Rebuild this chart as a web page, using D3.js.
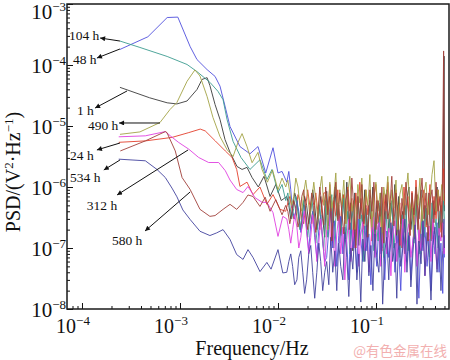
<!DOCTYPE html>
<html><head><meta charset="utf-8">
<script src="https://cdn.jsdelivr.net/npm/d3@7"></script>
<style>body{margin:0;background:#fff}svg{display:block}</style>
</head><body><svg id="c" width="450" height="360"></svg>
<script>
// ---------- DATA ----------
const seriesNames = ["1 h","24 h","48 h","104 h","312 h","490 h","534 h","580 h"];

// low-frequency parts: [frequency (Hz), PSD]
const s1h = [[2.44e-4,4.3e-5],[4.9e-4,2.9e-5],[7.4e-4,2.4e-5],[9.3e-4,2.3e-5],[1.18e-3,2.57e-5],[1.49e-3,3.96e-5],[1.68e-3,5.8e-5],[1.89e-3,6.2e-5],[2.02e-3,4.6e-5],[2.28e-3,2.25e-5],[2.56e-3,1.28e-5],[2.88e-3,6.0e-6],[3.24e-3,3.7e-6],[3.82e-3,2.17e-6],[4.3e-3,1.94e-6],[4.83e-3,2.1e-6],[5.44e-3,1.43e-6],[6.3e-3,1.0e-6],[7.2e-3,1.5e-6],[8.3e-3,7e-7],[9.5e-3,1.1e-6],[1.08e-2,6e-7]];
const s24h = [[2.37e-4,5.4e-6],[4.43e-4,5.7e-6],[8.28e-4,6.5e-6],[1.23e-3,7.8e-6],[1.61e-3,8.9e-6],[1.81e-3,8.3e-6],[2.29e-3,5.7e-6],[2.9e-3,3.9e-6],[3.4e-3,3.05e-6],[3.79e-3,1.94e-6],[4.09e-3,1.02e-6],[4.83e-3,1.2e-6],[5.56e-3,7.5e-7],[6.55e-3,1.0e-6],[7.7e-3,5.2e-7],[8.9e-3,7.5e-7],[1.05e-2,4.3e-7]];
const s48h = [[2.44e-4,1.8e-4],[4.7e-4,2.9e-4],[7.4e-4,6.0e-4],[9.5e-4,6.1e-4],[1.27e-3,2.0e-4],[1.49e-3,1.23e-4],[1.89e-3,8.4e-5],[2.28e-3,6.5e-5],[2.56e-3,4.5e-5],[2.94e-3,1.86e-5],[3.24e-3,9.8e-6],[4.09e-3,4.6e-6],[5.18e-3,3.5e-6],[6.25e-3,4.6e-6],[7.5e-3,1.7e-6],[8.9e-3,4.4e-6],[1.0e-2,1.7e-6],[1.1e-2,1.8e-6]];
const s104h = [[2.44e-4,2.47e-4],[3.9e-4,1.94e-4],[7.4e-4,1.38e-4],[1.18e-3,1.02e-4],[1.49e-3,7.8e-5],[2.02e-3,5.2e-5],[2.44e-3,3.7e-5],[2.75e-3,2.7e-5],[3.02e-3,1.28e-5],[3.48e-3,5.6e-6],[4.19e-3,3.05e-6],[5.18e-3,1.94e-6],[6.55e-3,2.8e-6],[7.72e-3,1.33e-6],[8.69e-3,1.94e-6],[1.0e-2,8.1e-7],[1.1e-2,1.1e-6]];
const s312h = [[2.37e-4,6.65e-6],[4.43e-4,6.9e-6],[7.08e-4,8.1e-6],[7.96e-4,6.9e-6],[9.7e-4,5.37e-6],[1.23e-3,4.17e-6],[1.55e-3,3.05e-6],[1.96e-3,2.52e-6],[2.48e-3,2.52e-6],[2.9e-3,1.85e-6],[3.24e-3,1.3e-6],[3.79e-3,9.1e-7],[4.4e-3,8.1e-7],[4.94e-3,1.02e-6],[5.82e-3,6.7e-7],[6.9e-3,5.6e-7],[7.7e-3,5.6e-7],[8.9e-3,3.8e-7],[1.0e-2,1.55e-7],[1.12e-2,3.3e-7]];
const s490h = [[2.44e-4,7.3e-6],[3.9e-4,8.0e-6],[6.25e-4,1.14e-5],[7.9e-4,1.86e-5],[9.3e-4,2.43e-5],[1.18e-3,5.4e-5],[1.42e-3,8.3e-5],[1.6e-3,6.6e-5],[1.89e-3,3.05e-5],[2.17e-3,1.38e-5],[2.56e-3,6.7e-6],[3.02e-3,4.1e-6],[3.48e-3,3.16e-6],[3.91e-3,5.4e-6],[4.3e-3,7.5e-6],[4.83e-3,4.6e-6],[5.44e-3,2.5e-6],[6.25e-3,3.7e-6],[6.87e-3,1.94e-6],[7.8e-3,1.2e-6],[8.8e-3,1.9e-6],[1.0e-2,9e-7],[1.1e-2,1.4e-6]];
const s534h = [[2.37e-4,2.86e-6],[4.43e-4,2.69e-6],[5.82e-4,1.94e-6],[7.08e-4,1.43e-6],[8.28e-4,9.6e-7],[9.31e-4,6.9e-7],[1.07e-3,4.2e-7],[1.27e-3,2.93e-7],[1.6e-3,1.88e-7],[2.02e-3,1.6e-7],[2.37e-3,1.77e-7],[2.75e-3,2.0e-7],[3.24e-3,1.38e-7],[3.79e-3,7.8e-8],[4.4e-3,6.5e-8],[4.94e-3,9.4e-8],[5.56e-3,7e-8],[6.55e-3,4.1e-8],[7.7e-3,5.8e-8],[8.5e-3,4.5e-8],[1.0e-2,9.4e-8],[1.12e-2,3.9e-8]];
const s580h = [[2.46e-4,3.9e-6],[4.43e-4,5.7e-6],[7.08e-4,8.1e-6],[7.36e-4,7.8e-6],[8.95e-4,3.9e-6],[1.05e-3,1.43e-6],[1.27e-3,9.1e-7],[1.6e-3,4.3e-7],[2.02e-3,3.3e-7],[2.28e-3,3.4e-7],[2.75e-3,4.3e-7],[3.24e-3,5.2e-7],[3.79e-3,4.3e-7],[4.4e-3,5.6e-7],[4.94e-3,7.4e-7],[5.56e-3,7e-7],[6.55e-3,4.8e-7],[7.4e-3,6.8e-7],[8.3e-3,4e-7],[9.5e-3,6.2e-7],[1.1e-2,3.5e-7]];

// high-frequency (noisy) part: two frequency lists (the series are sampled at interleaved frequencies)
const noiseFreqA = [0.012,0.0126,0.0132,0.0138,0.0145,0.0152,0.016,0.0167,0.0175,0.0183,0.0192,0.0201,0.0211,0.0221,0.0232,0.0243,0.0255,0.0267,0.028,0.0293,0.0307,0.0322,0.0338,0.0354,0.0371,0.0389,0.0408,0.0427,0.0448,0.047,0.0492,0.0516,0.0541,0.0567,0.0594,0.0623,0.0653,0.0684,0.0717,0.0752,0.0788,0.0826,0.0866,0.0908,0.0952,0.0998,0.105,0.11,0.115,0.12,0.126,0.132,0.139,0.145,0.152,0.16,0.167,0.175,0.184,0.193,0.202,0.212,0.222,0.233,0.244,0.256,0.268,0.281,0.295,0.309,0.324,0.34,0.356,0.373,0.391,0.41,0.43,0.45,0.47,0.49,0.5];
const noiseFreqB = [0.0123,0.0129,0.0135,0.0141,0.0148,0.0156,0.0163,0.0171,0.0179,0.0187,0.0196,0.0206,0.0216,0.0226,0.0237,0.0249,0.0261,0.0273,0.0286,0.03,0.0314,0.033,0.0346,0.0362,0.038,0.0398,0.0417,0.0437,0.0459,0.0481,0.0504,0.0528,0.0554,0.058,0.0608,0.0638,0.0668,0.07,0.0734,0.077,0.0807,0.0846,0.0887,0.093,0.0975,0.102,0.107,0.112,0.117,0.123,0.129,0.135,0.142,0.148,0.156,0.163,0.171,0.179,0.188,0.197,0.207,0.217,0.227,0.238,0.25,0.262,0.274,0.288,0.302,0.316,0.332,0.348,0.364,0.382,0.4,0.42,0.44,0.46,0.48,0.495,0.5];
const n1h = [7e-7,5e-7,3e-7,4.5e-7,8e-7,6e-7,3e-7,2e-7,4e-7,7e-7,5e-7,2.5e-7,4e-7,9e-7,5e-7,2e-7,3.5e-7,7e-7,3e-7,1.5e-7,8.5e-7,2.3e-7,6e-7,1.2e-7,1e-6,3.5e-7,5e-7,1.6e-7,7.5e-7,3e-7,1.2e-6,2e-7,5.5e-7,9e-8,8e-7,4e-7,1.1e-7,6.5e-7,2.5e-7,9e-7,1.5e-7,5e-7,3e-7,1e-6,1.3e-7,6e-7,2.2e-7,8e-7,1e-7,4.5e-7,9e-7,1.8e-7,5.5e-7,3e-7,1.1e-6,1.2e-7,7e-7,2.5e-7,4e-7,8e-8,6.5e-7,1e-6,2e-7,4.5e-7,1.4e-7,7.5e-7,3e-7,9e-7,1.1e-7,5e-7,2.4e-7,8e-7,1.3e-7,6e-7,3.5e-7,1e-6,1.6e-7,5e-7,2.5e-7,1.4e-4,4e-7];
const n24h = [4e-7,5.5e-7,7e-7,4.5e-7,3e-7,4e-7,7.5e-7,6e-7,3e-7,2.5e-7,5e-7,9e-7,5e-7,2.5e-7,4.5e-7,8e-7,4e-7,2e-7,5e-7,8e-7,8e-7,4e-7,1.1e-6,2.8e-7,6e-7,3.3e-7,9e-7,1.8e-7,5e-7,7.5e-7,2.5e-7,1e-6,4e-7,6.5e-7,1.5e-7,8e-7,3e-7,1.2e-6,4.5e-7,2e-7,9e-7,3.5e-7,6e-7,1.3e-7,7e-7,1.1e-6,2.5e-7,5e-7,9e-8,8e-7,3e-7,1.2e-6,4e-7,1.5e-7,6e-7,9e-7,2e-7,5.5e-7,1e-7,1e-6,3.5e-7,7e-7,1.6e-7,8.5e-7,2.7e-7,1.3e-6,4e-7,1.2e-7,6.5e-7,9e-7,2.2e-7,5e-7,1.1e-6,1.4e-7,7e-7,3e-7,9e-7,1.8e-7,6e-7,2e-6,5e-7];
const n48h = [1.2e-6,1.8e-6,9e-7,4e-7,3e-7,6e-7,4e-7,1.8e-7,2.5e-7,5e-7,2e-7,9e-8,2.5e-7,4e-7,1.5e-7,7e-8,2e-7,3.5e-7,1.2e-7,6e-8,7e-8,2e-7,4e-7,1e-7,2.8e-7,5e-8,1.6e-7,3.3e-7,8e-8,2.2e-7,1.2e-7,3e-8,2.6e-7,1e-7,1.8e-7,4e-8,3e-7,1.4e-7,6e-8,2.3e-7,9e-8,1.7e-7,2.5e-8,2e-7,1.1e-7,5e-8,2.6e-7,8e-8,1.5e-7,3e-8,1.9e-7,7e-8,1.2e-7,2.4e-7,4e-8,1.6e-7,9e-8,2e-8,2.1e-7,1e-7,6e-8,1.8e-7,3e-8,1.3e-7,2.4e-7,7e-8,1.5e-8,1.7e-7,9e-8,2.2e-7,5e-8,1.4e-7,2e-8,1.9e-7,8e-8,2.6e-7,4e-8,1.2e-7,1.8e-8,1.6e-7,7e-8];
const n104h = [6e-7,8e-7,5e-7,3e-7,4.5e-7,7e-7,4e-7,2e-7,3e-7,6e-7,3.5e-7,1.5e-7,3e-7,7e-7,3e-7,1.2e-7,2.5e-7,5e-7,2e-7,9e-8,6e-7,1.5e-7,4e-7,7.5e-7,1e-7,3e-7,5.5e-7,1.2e-7,2.4e-7,6.5e-7,1.4e-7,4e-7,8e-8,3e-7,5e-7,1.1e-7,7e-7,2e-7,3.5e-7,6e-8,4.5e-7,1.6e-7,6e-7,2.5e-7,9e-8,3.8e-7,1.3e-7,5.5e-7,2e-7,7e-8,4e-7,1.5e-7,3e-7,6e-7,1e-7,2.2e-7,5e-7,7e-8,3.5e-7,1.8e-7,5e-7,9e-8,2.8e-7,4.5e-7,1.2e-7,6e-7,2e-7,8e-8,3.5e-7,1.5e-7,4.5e-7,2.3e-7,7e-8,5.5e-7,1.7e-7,3e-7,1e-7,4e-7,2e-7,6e-7,3e-7];
const n312h = [3e-7,2e-7,1.2e-7,2e-7,3.5e-7,2.2e-7,1e-7,1.5e-7,3e-7,4e-7,1.8e-7,8e-8,1.5e-7,3.5e-7,2e-7,6e-8,1.2e-7,3e-7,1.5e-7,5e-8,2e-7,4e-7,1.1e-7,2.6e-7,5e-8,1.7e-7,3.4e-7,8e-8,2.2e-7,3e-8,1.4e-7,3e-7,6e-8,2e-7,1e-7,3.6e-7,5e-8,1.6e-7,2.7e-7,9e-8,2.2e-7,4e-8,1.3e-7,3.2e-7,7e-8,1.9e-7,2.6e-7,5e-8,1.4e-7,3e-7,8e-8,2.1e-7,3.5e-8,1.6e-7,2.8e-7,6e-8,1.9e-7,1.1e-7,3e-7,4e-8,1.7e-7,2.5e-7,7e-8,1.3e-7,3.3e-7,5e-8,2e-7,9e-8,2.7e-7,3.5e-8,1.5e-7,2.3e-7,6e-8,3e-7,1.1e-7,4.5e-8,2.1e-7,1.3e-7,2.6e-7,8e-8,1.6e-7];
const n490h = [1e-6,1.3e-6,8e-7,5e-7,7e-7,1.4e-6,1e-6,5e-7,4e-7,8e-7,1.3e-6,7e-7,3.5e-7,6e-7,1.2e-6,6e-7,3e-7,9e-7,1.5e-6,5e-7,8e-7,2e-7,1.2e-6,4.5e-7,7e-7,1.7e-6,3e-7,9e-7,5e-7,1.3e-6,2.5e-7,8e-7,1.5e-6,4e-7,6e-7,1.9e-7,1.1e-6,5.5e-7,1.4e-6,3e-7,9e-7,5e-7,1.6e-6,2.2e-7,7e-7,1.2e-6,4e-7,8e-7,1.8e-7,1e-6,6e-7,1.5e-6,3e-7,9e-7,4.5e-7,1.3e-6,2e-7,7.5e-7,1.1e-6,3.5e-7,8e-7,1.7e-6,4e-7,6.5e-7,1.5e-7,1e-6,5e-7,1.4e-6,2.7e-7,8e-7,1.2e-6,3.5e-7,6e-7,1.6e-6,2.7e-6,4e-7,9e-7,5e-7,1.1e-6,6e-7,8e-7];
const n534h = [4e-8,6e-8,8e-8,5e-8,2.5e-8,3e-8,7e-8,9e-8,4e-8,1.8e-8,3e-8,8e-8,1.1e-7,4e-8,1.5e-8,4e-8,1.2e-7,6e-8,2e-8,4e-8,6e-8,2.5e-8,1.5e-7,4e-8,9e-8,2e-8,1.2e-7,5e-8,3e-8,1.8e-7,7e-8,1.6e-8,1e-7,4.5e-8,2e-7,3e-8,8e-8,1.3e-8,1.4e-7,6e-8,2.4e-7,3.5e-8,1.1e-7,2e-8,1.7e-7,7e-8,4e-8,2.2e-7,1.2e-8,9e-8,1.5e-7,3e-8,2.6e-7,6e-8,1.2e-7,1.5e-8,2e-7,5e-8,1e-7,3e-7,4e-8,1.6e-7,2.3e-8,8e-8,2.4e-7,1.2e-8,1.3e-7,5.5e-8,2.8e-7,3.5e-8,1.8e-7,7e-8,1.4e-8,1.1e-7,2.2e-7,4e-8,1.6e-7,2e-8,9e-8,3e-7,1e-7];
const n580h = [5e-7,4e-7,2.5e-7,3.5e-7,6e-7,4.5e-7,2.2e-7,3e-7,7e-7,9e-7,4e-7,2e-7,4e-7,8e-7,5e-7,1.8e-7,3.5e-7,1e-6,5e-7,2.4e-7,1e-6,3.5e-7,7e-7,1.3e-7,5.5e-7,1.2e-6,2.8e-7,8e-7,4e-7,1.7e-7,6e-7,9e-7,2e-7,1.4e-6,4.5e-7,1e-7,7e-7,3e-7,1.1e-6,2.5e-7,5e-7,1.5e-7,9e-7,4e-7,1.2e-6,2e-7,6e-7,3.3e-7,1e-6,1.2e-7,7.5e-7,3e-7,5e-7,1.5e-6,2.3e-7,8e-7,4e-7,1.1e-7,6.5e-7,3e-7,1.2e-6,4.5e-7,1.6e-7,8e-7,3.5e-7,1e-6,2e-7,6e-7,1.4e-6,3e-7,8e-7,1.3e-7,5.5e-7,9e-7,2.6e-7,1.2e-6,4e-7,7e-7,1.5e-7,1.7e-4,6e-7];

// axis ticks
const xMajorTicks = [1e-4,1e-3,1e-2,1e-1];
const xTickExponents = ["\u22124","\u22123","\u22122","\u22121"];
const yMajorTicks = [1e-3,1e-4,1e-5,1e-6,1e-7,1e-8];
const yTickExponents = ["\u22123","\u22124","\u22125","\u22126","\u22127","\u22128"];

// annotation labels (data coordinates): text anchor, arrow start (on curve), arrow tip
const annotNames = ["104 h","48 h","1 h","490 h","24 h","534 h","312 h","580 h"];
const annotText = [[7.36e-5,2.57e-4],[8.09e-5,1.04e-4],[8.89e-5,1.51e-5],[1.15e-4,8.59e-6],[7.55e-5,2.77e-6],[7.55e-5,1.21e-6],[1.12e-4,4.2e-7],[2.02e-4,1.12e-7]];
const annotFrom = [[2.44e-4,2.47e-4],[2.44e-4,1.83e-4],[2.88e-4,3.75e-5],[6.25e-4,1.12e-5],[2.44e-4,5.26e-6],[2.44e-4,2.77e-6],[1.21e-3,4.05e-6],[1.27e-3,8.3e-7]];
const annotTo = [[1.53e-4,2.77e-4],[1.42e-4,1.3e-4],[1.36e-4,1.97e-5],[2.39e-4,1.12e-5],[1.42e-4,4.05e-6],[1.67e-4,1.9e-6],[2.28e-4,7.4e-7],[4.4e-4,1.9e-7]];

// ---------- CHART ----------
const serif = "'Liberation Serif','Times New Roman',serif";
const plot = {left:67,right:449,top:4,bottom:309};
const x = d3.scaleLog().domain([7.03e-5,0.556]).range([plot.left,plot.right]);
const y = d3.scaleLog().domain([1e-8,1e-3]).range([plot.bottom,plot.top]);
const svg = d3.select("#c");

const defs = svg.append("defs");
defs.append("clipPath").attr("id","clip").append("rect")
  .attr("x",plot.left).attr("y",plot.top).attr("width",plot.right-plot.left).attr("height",plot.bottom-plot.top);
defs.append("marker").attr("id","ah").attr("viewBox","0 0 10 10").attr("refX",10).attr("refY",5)
  .attr("markerWidth",8).attr("markerHeight",5).attr("markerUnits","userSpaceOnUse").attr("orient","auto")
  .append("path").attr("d","M0,0L10,5L0,10z").attr("fill","#111");

const series = [
  {smooth:s1h,  noise:n1h,  freq:noiseFreqB, color:"#3a3a3a"},
  {smooth:s24h, noise:n24h, freq:noiseFreqA, color:"#e3402c"},
  {smooth:s48h, noise:n48h, freq:noiseFreqB, color:"#4f4fdc"},
  {smooth:s104h,noise:n104h,freq:noiseFreqA, color:"#3c9c90"},
  {smooth:s312h,noise:n312h,freq:noiseFreqB, color:"#e040e0"},
  {smooth:s490h,noise:n490h,freq:noiseFreqA, color:"#a3a345"},
  {smooth:s534h,noise:n534h,freq:noiseFreqB, color:"#43439e"},
  {smooth:s580h,noise:n580h,freq:noiseFreqA, color:"#a0403a"}
];
const line = d3.line().x(d=>x(d[0])).y(d=>y(d[1]));
const gLines = svg.append("g").attr("clip-path","url(#clip)");
series.forEach((s,i)=>{
  const pts = s.smooth.concat(s.freq.map((f,j)=>[f,s.noise[j]]).filter(d=>d[1]!==undefined));
  gLines.append("path").attr("d",line(pts)).attr("fill","none")
    .attr("stroke",s.color).attr("stroke-width",0.9).attr("stroke-linejoin","round")
    .attr("data-name",seriesNames[i]);
});

// minor tick values
const xMinor=[], yMinor=[];
for (let e=-5;e<=0;e++) for (let m=2;m<=9;m++){
  const v=m*Math.pow(10,e);
  if (v>=x.domain()[0] && v<=x.domain()[1]) xMinor.push(v);
}
for (let e=-8;e<=-4;e++) for (let m=2;m<=9;m++) yMinor.push(m*Math.pow(10,e));

function styleAxis(g){ g.select(".domain").remove(); g.selectAll("line").attr("stroke","#111").attr("stroke-width",1); }
svg.append("g").attr("transform",`translate(0,${plot.bottom})`)
  .call(d3.axisBottom(x).tickValues(xMajorTicks).tickSize(-6).tickFormat("")).call(styleAxis);
svg.append("g").attr("transform",`translate(0,${plot.bottom})`)
  .call(d3.axisBottom(x).tickValues(xMinor).tickSize(-3).tickFormat("")).call(styleAxis);
svg.append("g").attr("transform",`translate(${plot.left},0)`)
  .call(d3.axisLeft(y).tickValues(yMajorTicks).tickSize(-6).tickFormat("")).call(styleAxis);
svg.append("g").attr("transform",`translate(${plot.left},0)`)
  .call(d3.axisLeft(y).tickValues(yMinor).tickSize(-3).tickFormat("")).call(styleAxis);

// frame
svg.append("rect").attr("x",plot.left).attr("y",plot.top).attr("width",plot.right-plot.left).attr("height",plot.bottom-plot.top)
  .attr("fill","none").attr("stroke","#1a1a1a").attr("stroke-width",1.5);

// x tick labels
xMajorTicks.forEach((v,i)=>{
  const t = svg.append("text").attr("x",x(v)-9).attr("y",333).attr("text-anchor","middle")
    .attr("font-family",serif).attr("font-size",20).attr("fill","#111");
  t.append("tspan").text("10");
  t.append("tspan").attr("dy",-8).attr("font-size",13).text(xTickExponents[i]);
});
// y tick labels
yMajorTicks.forEach((v,i)=>{
  const t = svg.append("text").attr("x",66).attr("y",Math.max(y(v)+8,19)).attr("text-anchor","end")
    .attr("font-family",serif).attr("font-size",21).attr("fill","#111");
  t.append("tspan").text("10");
  t.append("tspan").attr("dy",-8).attr("font-size",13).text(yTickExponents[i]);
});

// axis titles
svg.append("text").attr("x",252).attr("y",355).attr("text-anchor","middle")
  .attr("font-family",serif).attr("font-size",20).attr("fill","#111").text("Frequency/Hz");
const yt = svg.append("text").attr("transform","translate(20,172) rotate(-90)").attr("text-anchor","middle")
  .attr("font-family",serif).attr("font-size",20).attr("fill","#111");
yt.append("tspan").text("PSD/(V");
yt.append("tspan").attr("dy",-7).attr("font-size",13).text("2");
yt.append("tspan").attr("dy",7).text("\u00b7Hz");
yt.append("tspan").attr("dy",-7).attr("font-size",13).text("\u22121");
yt.append("tspan").attr("dy",7).text(")");

// annotations
annotNames.forEach((n,i)=>{
  svg.append("line").attr("x1",x(annotFrom[i][0])).attr("y1",y(annotFrom[i][1]))
    .attr("x2",x(annotTo[i][0])).attr("y2",y(annotTo[i][1]))
    .attr("stroke","#111").attr("stroke-width",1).attr("marker-end","url(#ah)");
  svg.append("text").attr("x",x(annotText[i][0])).attr("y",y(annotText[i][1]))
    .attr("font-family",serif).attr("font-size",13.5).attr("fill","#111").text(n);
});

// watermark
svg.append("text").attr("x",447).attr("y",356).attr("text-anchor","end")
  .attr("font-family","'Noto Sans CJK SC',sans-serif").attr("font-size",13.5).attr("fill","#f2b0b0").text("@有色金属在线");
</script>
</body></html>
